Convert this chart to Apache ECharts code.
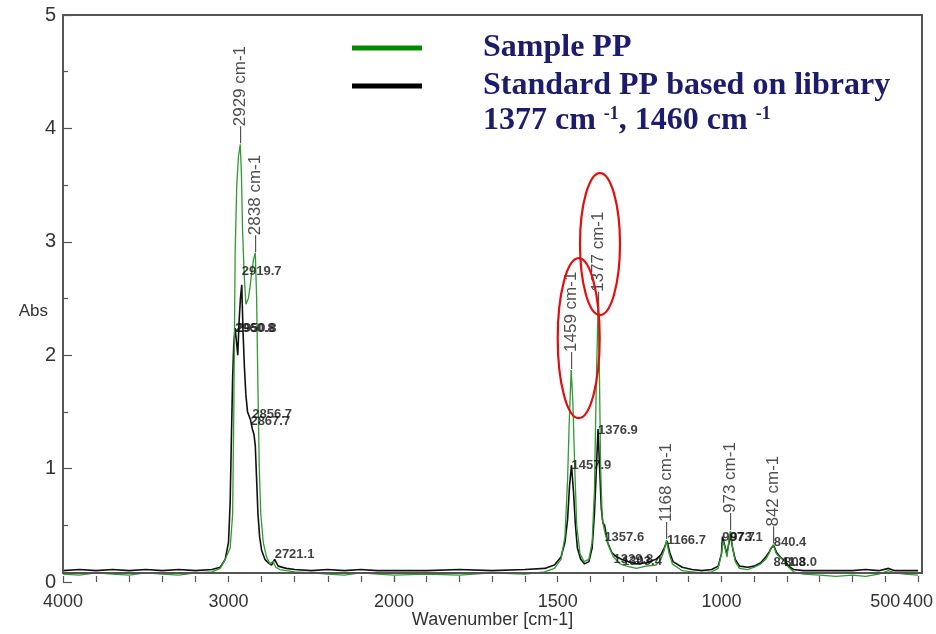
<!DOCTYPE html>
<html>
<head>
<meta charset="utf-8">
<script src="https://cdn.jsdelivr.net/npm/echarts@6/dist/echarts.min.js"></script>
<style>
html,body{margin:0;padding:0;background:#fff;}
#chart{width:936px;height:634px;}
</style>
</head>
<body>
<div id="chart"></div>
<script>
// ---- data: [wavenumber cm-1, absorbance] ----
const samplePP = [
  [4000,0.07],[3900,0.06],[3800,0.08],[3700,0.07],[3600,0.06],[3500,0.08],[3400,0.07],[3300,0.06],
  [3200,0.08],[3100,0.09],[3050,0.12],[3020,0.2],[2990,0.3],[2975,0.6],[2968,1.5],[2960,2.9],
  [2950,3.5],[2940,3.75],[2929,3.86],[2922,3.6],[2915,3.1],[2905,2.7],[2895,2.45],[2880,2.5],
  [2870,2.6],[2858,2.75],[2848,2.85],[2838,2.9],[2830,2.5],[2822,1.7],[2814,1.0],[2805,0.6],
  [2790,0.35],[2770,0.22],[2750,0.16],[2730,0.18],[2715,0.13],[2690,0.11],[2650,0.1],[2600,0.09],
  [2500,0.08],[2400,0.07],[2300,0.06],[2200,0.08],[2100,0.07],[2000,0.06],
  [1900,0.07],[1800,0.06],[1700,0.08],[1600,0.07],[1540,0.09],[1510,0.12],[1490,0.2],[1478,0.4],
  [1470,0.9],[1465,1.4],[1459,1.87],[1454,1.6],[1448,1.0],[1442,0.5],[1432,0.25],[1420,0.18],
  [1405,0.2],[1395,0.35],[1388,0.8],[1382,1.8],[1377,2.4],[1373,1.9],[1369,1.0],[1364,0.55],
  [1357,0.45],[1345,0.32],[1330,0.22],[1310,0.16],[1290,0.14],[1260,0.12],[1230,0.14],[1200,0.15],
  [1185,0.2],[1175,0.28],[1168,0.37],[1160,0.25],[1150,0.16],[1120,0.1],[1090,0.09],[1060,0.08],
  [1030,0.09],[1010,0.12],[1000,0.25],[995,0.36],[989,0.3],[983,0.22],[978,0.35],[973,0.45],
  [966,0.3],[958,0.18],[945,0.12],[920,0.11],[900,0.13],[880,0.16],[865,0.2],[855,0.25],
  [848,0.3],[842,0.33],[833,0.25],[822,0.22],[810,0.19],[795,0.13],[780,0.09],[750,0.07],
  [700,0.06],[650,0.05],[600,0.06],[560,0.05],[520,0.07],[490,0.1],[470,0.08],[440,0.07],[400,0.06]
];
const standardPP = [
  [4000,0.1],[3900,0.11],[3800,0.1],[3700,0.11],[3600,0.1],[3500,0.11],[3400,0.1],[3300,0.11],
  [3200,0.1],[3100,0.11],[3050,0.13],[3020,0.2],[3000,0.35],[2990,0.7],[2982,1.3],[2975,1.8],
  [2968,2.1],[2960,2.24],[2952,2.25],[2944,2.0],[2936,2.3],[2928,2.5],[2920,2.62],[2912,2.2],
  [2904,1.9],[2895,1.65],[2885,1.5],[2867,1.43],[2856,1.35],[2846,1.3],[2838,1.2],[2830,0.9],
  [2822,0.6],[2812,0.4],[2800,0.28],[2780,0.2],[2760,0.17],[2740,0.15],[2721,0.2],[2700,0.14],
  [2650,0.12],[2600,0.11],[2500,0.1],[2400,0.11],[2300,0.1],[2200,0.11],[2100,0.1],[2000,0.1],
  [1900,0.1],[1800,0.11],[1700,0.1],[1600,0.11],[1540,0.12],[1510,0.15],[1490,0.22],[1478,0.35],
  [1470,0.55],[1464,0.85],[1458,1.03],[1452,0.8],[1446,0.5],[1440,0.3],[1430,0.2],[1418,0.16],
  [1405,0.18],[1395,0.3],[1388,0.6],[1382,1.0],[1377,1.35],[1372,1.0],[1367,0.65],[1362,0.52],
  [1357,0.5],[1348,0.35],[1335,0.26],[1320,0.22],[1305,0.2],[1285,0.18],[1260,0.16],[1230,0.17],
  [1200,0.2],[1185,0.24],[1175,0.3],[1166,0.36],[1158,0.26],[1148,0.18],[1120,0.13],[1090,0.11],
  [1060,0.1],[1030,0.11],[1010,0.14],[1000,0.25],[997,0.4],[990,0.32],[984,0.25],[978,0.33],
  [973,0.42],[966,0.3],[958,0.2],[945,0.14],[920,0.13],[900,0.14],[880,0.17],[865,0.22],
  [855,0.26],[848,0.3],[840,0.32],[832,0.26],[820,0.22],[808,0.19],[795,0.14],[780,0.11],
  [750,0.1],[700,0.1],[650,0.1],[600,0.1],[560,0.11],[520,0.1],[490,0.12],[470,0.1],[440,0.1],[400,0.1]
];
// peak annotations on the sample spectrum (rotated labels)
const samplePeakLabels = [[2929,3.86],[2838,2.9],[1459,1.87],[1377,2.4],[1168,0.37],[973,0.45],[842,0.33]];
// peak annotations on the library spectrum (small numeric labels)
const standardPeakLabels = [
  [2919.7,2.74],[2950.8,2.24],[2960.8,2.24],[2856.7,1.48],[2867.7,1.42],[2721.1,0.24],
  [1376.9,1.34],[1457.9,1.03],[1357.6,0.39],[1329.8,0.2],[1303.4,0.18],[1166.7,0.37],
  [997.7,0.39],[973.1,0.39],[840.4,0.35],[841.3,0.17],[808.0,0.17]
];
const xTickLabelsLeft = [4000,3000];
const xTickLabelsRight = [2000,1500,1000,500,400];
// highlighted peaks (red ellipses): centre in data units
const ellipseCentres = [[1436,2.15],[1371,2.98]];

const legendNames = ['Sample PP','Standard PP based on library'];
const GREEN = '#2f9a2f', BLACK = '#111111', FRAME = '#555555', NAVY = '#1c1c6b';
const labelFont = '"Liberation Sans",Arial,sans-serif';
const serif = '"Liberation Serif","Times New Roman",serif';

const chart = echarts.init(document.getElementById('chart'), null, {renderer:'canvas', width:936, height:634});

const GL = {left:63, top:15, bottom:52};
const splitX = 394;

function part(arr, lo, hi){ return arr.filter(p => p[0] >= lo && p[0] <= hi); }

const tickStyle = {show:true, inside:true, length:6, interval:0, lineStyle:{color:FRAME, width:1.2}};
function xAxisCfg(gi, min, max, interval, labels){
  return {
    type:'value', gridIndex:gi, inverse:true, min:min, max:max, interval:interval,
    axisLine:{show:false}, splitLine:{show:false}, axisTick:tickStyle,
    axisLabel:{
      show:true, interval:0, margin:11, color:'#333', fontSize:18, fontFamily:labelFont, hideOverlap:false,
      showMinLabel:true, showMaxLabel:true,
      formatter: v => labels.indexOf(v) >= 0 ? String(v) : ''
    }
  };
}

function lineSeries(name, data, xi, color, width, z){
  return {
    type:'line', name:name, xAxisIndex:xi, yAxisIndex:xi, data:data,
    showSymbol:false, symbol:'none', animation:false, z:z,
    lineStyle:{color:color, width:width}, itemStyle:{color:color}
  };
}

function rotatedLabels(data, xi){
  return {
    type:'scatter', xAxisIndex:xi, yAxisIndex:xi, data:data, symbolSize:0, silent:true, z:5,
    label:{
      show:true, position:'top', distance:1, rotate:90, align:'left', verticalAlign:'middle',
      fontSize:17, color:'#222', fontFamily:labelFont,
      formatter: p => '—' + p.value[0] + ' cm-1'
    }
  };
}
function numLabels(data, xi){
  return {
    type:'scatter', xAxisIndex:xi, yAxisIndex:xi, data:data, symbolSize:0, silent:true, z:6,
    label:{
      show:true, position:'right', distance:0, fontSize:13, fontWeight:'bold', color:'#111',
      fontFamily:labelFont, formatter: p => p.value[0].toFixed(1)
    }
  };
}

const option = {
  backgroundColor:'#ffffff',
  animation:false,
  grid:[
    {left:GL.left, top:GL.top, bottom:GL.bottom, width:splitX-GL.left},
    {left:splitX, top:GL.top, bottom:GL.bottom, right:14},
    {left:GL.left, top:GL.top, bottom:GL.bottom, right:14, show:true, borderColor:FRAME, borderWidth:2, z:10}
  ],
  xAxis:[
    xAxisCfg(0, 2000, 4000, 200, xTickLabelsLeft),
    xAxisCfg(1, 400, 2000, 100, xTickLabelsRight),
    {type:'value', gridIndex:2, min:0, max:1, axisLine:{show:false}, axisTick:{show:false},
     axisLabel:{show:false}, splitLine:{show:false},
     name:'Wavenumber [cm-1]', nameLocation:'middle', nameGap:38,
     nameTextStyle:{fontSize:18, color:'#333', fontFamily:labelFont}}
  ],
  yAxis:[
    {type:'value', gridIndex:0, min:0, max:5, interval:1,
     axisLine:{show:false}, splitLine:{show:false},
     axisTick:{show:true, inside:true, length:9, lineStyle:{color:FRAME, width:1.2}},
     minorTick:{show:true, splitNumber:2, length:5, lineStyle:{color:FRAME, width:1.2}},
     axisLabel:{margin:7, color:'#333', fontSize:20, fontFamily:labelFont},
     name:'Abs', nameLocation:'middle', nameRotate:0, nameGap:15, nameMoveOverlap:false,
     nameTextStyle:{fontSize:17, color:'#333', fontFamily:labelFont, verticalAlign:'top', padding:[4,0,0,0]}},
    {type:'value', gridIndex:1, min:0, max:5, show:false},
    {type:'value', gridIndex:2, min:0, max:1, show:false}
  ],
  legend:{
    orient:'vertical', left:352, top:32, padding:0, itemWidth:70, itemHeight:5, itemGap:6,
    icon:'rect', selectedMode:false,
    textStyle:{fontSize:32, fontWeight:'bold', color:NAVY, fontFamily:serif, padding:[0,0,0,56]},
    data:[
      {name:legendNames[0], itemStyle:{color:'#008a00'}},
      {name:legendNames[1], itemStyle:{color:'#000000'}}
    ]
  },
  title:{
    left:483, top:105, padding:0,
    text:'{a|1377 cm }{s|-1}{a|, 1460 cm }{s|-1}',
    textStyle:{
      rich:{
        a:{fontSize:32, fontWeight:'bold', color:NAVY, fontFamily:serif},
        s:{fontSize:18, fontWeight:'bold', color:NAVY, fontFamily:serif, verticalAlign:'top', padding:[0,0,14,0]}
      }
    }
  },
  series:[
    lineSeries(legendNames[1], part(standardPP,2000,4000), 0, BLACK, 1.6, 2),
    lineSeries(legendNames[1], part(standardPP,400,2000), 1, BLACK, 1.6, 2),
    lineSeries(legendNames[0], part(samplePP,2000,4000), 0, GREEN, 1.3, 3),
    lineSeries(legendNames[0], part(samplePP,400,2000), 1, GREEN, 1.3, 3),
    rotatedLabels(part(samplePeakLabels,2000,4000), 0),
    rotatedLabels(part(samplePeakLabels,400,2000), 1),
    numLabels(part(standardPeakLabels,2000,4000), 0),
    numLabels(part(standardPeakLabels,400,2000), 1)
  ]
};
chart.setOption(option);

// red ellipses anchored to data positions
const ell = ellipseCentres.map((c, i) => {
  const p = chart.convertToPixel({xAxisIndex:1, yAxisIndex:1}, c);
  return {type:'ellipse', shape:{cx:p[0], cy:p[1], rx:i===0?21:20, ry:i===0?80:71},
          style:{fill:'none', stroke:'#e01010', lineWidth:2.2}, z:20, silent:true};
});
chart.setOption({graphic:ell});
</script>
</body>
</html>
